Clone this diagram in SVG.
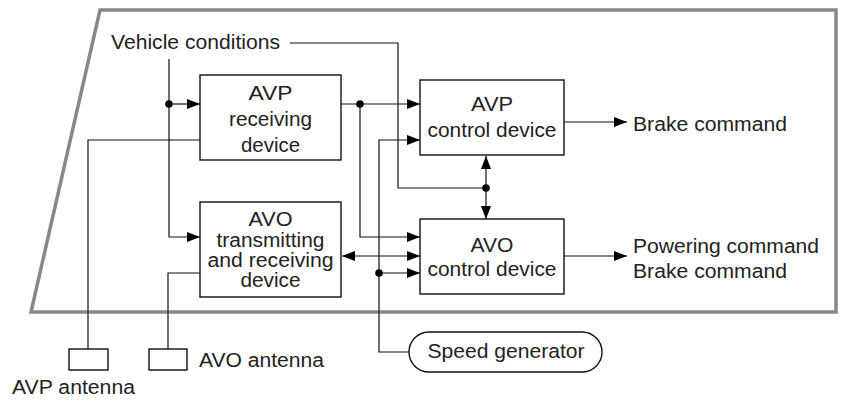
<svg xmlns="http://www.w3.org/2000/svg" width="844" height="401" viewBox="0 0 844 401">
<style>
.t{font-family:"Liberation Sans",Arial,sans-serif;font-size:20px;fill:#222}
.m{text-anchor:middle}
.box{fill:#fff;stroke:#111;stroke-width:1.4}
.ln{fill:none;stroke:#111;stroke-width:1.2}
.frame{fill:none;stroke:#888;stroke-width:3.5}
.dot{fill:#000}
</style>
<defs>
<marker id="ah" markerUnits="userSpaceOnUse" markerWidth="13" markerHeight="10" refX="13" refY="5" orient="auto-start-reverse">
<path d="M0,0 L13,5 L0,10 z" fill="#000"/>
</marker>
</defs>
<polygon class="frame" points="100,10 836,10 836,312 31,312"/>
<g id="connectors">
<polyline class="ln" points="290,43 398,43 398,188 486,188"/>
<polyline class="ln" points="169,59 169,237 200,237" marker-end="url(#ah)"/>
<line class="ln" x1="169" y1="104" x2="200" y2="104" marker-end="url(#ah)"/>
<circle class="dot" cx="169" cy="104" r="3.8"/>
<line class="ln" x1="341" y1="104" x2="420" y2="104" marker-end="url(#ah)"/>
<polyline class="ln" points="360,104 360,237 420,237" marker-end="url(#ah)"/>
<circle class="dot" cx="360" cy="104" r="3.8"/>
<polyline class="ln" points="409,352 379,352 379,140 420,140" marker-end="url(#ah)"/>
<line class="ln" x1="379" y1="273" x2="420" y2="273" marker-end="url(#ah)"/>
<circle class="dot" cx="379" cy="273" r="3.8"/>
<line class="ln" x1="342" y1="256" x2="420" y2="256" marker-start="url(#ah)" marker-end="url(#ah)"/>
<line class="ln" x1="486" y1="156" x2="486" y2="219" marker-start="url(#ah)" marker-end="url(#ah)"/>
<circle class="dot" cx="486" cy="188" r="3.8"/>
<line class="ln" x1="564" y1="122" x2="627" y2="122" marker-end="url(#ah)"/>
<line class="ln" x1="564" y1="256" x2="627" y2="256" marker-end="url(#ah)"/>
<polyline class="ln" points="200,140 88,140 88,349"/>
<polyline class="ln" points="200,273 168,273 168,349"/>
</g>
<g id="vehicle-conditions">
<text class="t" x="111" y="49" textLength="169" lengthAdjust="spacingAndGlyphs">Vehicle conditions</text>
</g>
<g id="avp-receiving">
<rect class="box" x="200" y="75" width="141" height="85"/>
<text class="t m" x="270.5" y="100" textLength="44" lengthAdjust="spacingAndGlyphs">AVP</text>
<text class="t m" x="270.5" y="126" textLength="83" lengthAdjust="spacingAndGlyphs">receiving</text>
<text class="t m" x="270.5" y="152" textLength="59" lengthAdjust="spacingAndGlyphs">device</text>
</g>
<g id="avp-control">
<rect class="box" x="420" y="80" width="144" height="75"/>
<text class="t m" x="492" y="111" textLength="42" lengthAdjust="spacingAndGlyphs">AVP</text>
<text class="t m" x="492" y="137" textLength="129" lengthAdjust="spacingAndGlyphs">control device</text>
</g>
<g id="brake-command-1">
<text class="t" x="633" y="131" textLength="154" lengthAdjust="spacingAndGlyphs">Brake command</text>
</g>
<g id="avo-transmitting">
<rect class="box" x="200" y="202" width="141" height="95"/>
<text class="t m" x="270.5" y="226" textLength="44" lengthAdjust="spacingAndGlyphs">AVO</text>
<text class="t m" x="270.5" y="247" textLength="108" lengthAdjust="spacingAndGlyphs">transmitting</text>
<text class="t m" x="270.5" y="267" textLength="126" lengthAdjust="spacingAndGlyphs">and receiving</text>
<text class="t m" x="270.5" y="287" textLength="60" lengthAdjust="spacingAndGlyphs">device</text>
</g>
<g id="avo-control">
<rect class="box" x="420" y="219" width="144" height="75"/>
<text class="t m" x="492" y="252" textLength="43" lengthAdjust="spacingAndGlyphs">AVO</text>
<text class="t m" x="492" y="275.5" textLength="129" lengthAdjust="spacingAndGlyphs">control device</text>
</g>
<g id="avo-outputs">
<text class="t" x="633" y="253" textLength="186" lengthAdjust="spacingAndGlyphs">Powering command</text>
<text class="t" x="633" y="278" textLength="154" lengthAdjust="spacingAndGlyphs">Brake command</text>
</g>
<g id="speed-generator">
<rect class="box" x="409" y="332" width="193" height="40" rx="20" ry="20"/>
<text class="t m" x="506" y="358" textLength="157" lengthAdjust="spacingAndGlyphs">Speed generator</text>
</g>
<g id="avp-antenna">
<rect class="box" x="69" y="349" width="39" height="21"/>
<text class="t" x="12" y="394" textLength="123" lengthAdjust="spacingAndGlyphs">AVP antenna</text>
</g>
<g id="avo-antenna">
<rect class="box" x="149" y="349" width="38" height="21"/>
<text class="t" x="199" y="367" textLength="125" lengthAdjust="spacingAndGlyphs">AVO antenna</text>
</g>
</svg>
